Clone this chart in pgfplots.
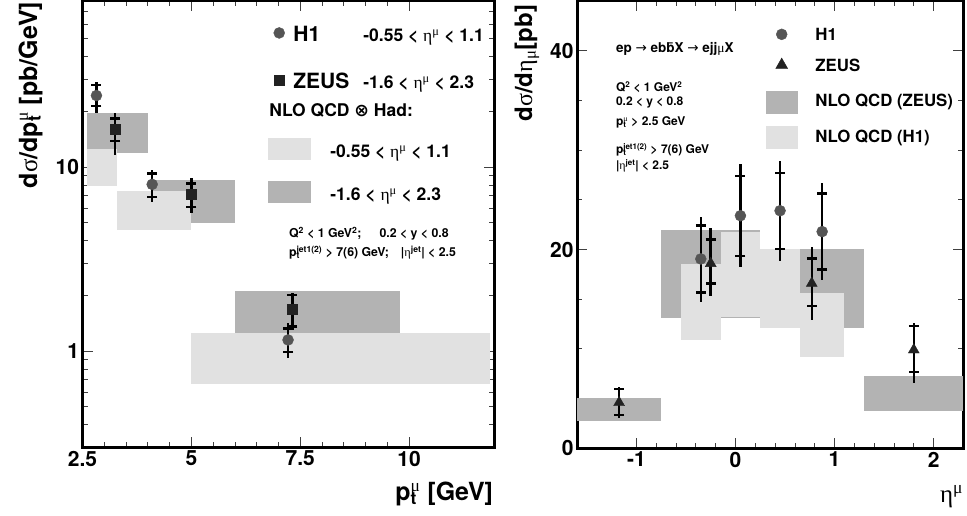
\documentclass[border=0pt]{standalone}
\usepackage{fontspec}
\setmainfont{TeX Gyre Heros}
\newfontfamily\gr{Liberation Serif}
\newfontfamily\djf{DejaVu Sans}
\usepackage{pgfplots}
\pgfplotsset{compat=1.18}
\definecolor{h1c}{HTML}{555555}
\definecolor{zc}{HTML}{222222}
\definecolor{dband}{HTML}{B3B3B3}
\definecolor{lband}{HTML}{E1E1E1}
\newcommand{\g}[1]{{\gr\mdseries #1}}
\newcommand{\sps}[1]{\textsuperscript{#1}}
\newcommand{\sbs}[1]{\textsubscript{#1}}
\newcommand{\SupSub}[2]{\setbox0\hbox{\sps{#1}}\setbox2\hbox{\sbs{#2}}\ifdim\wd0>\wd2 \rlap{\box2}\box0 \else\rlap{\box0}\box2 \fi}
\newcommand{\st}[2]{\rule[-#2pt]{0pt}{\dimexpr#1pt+#2pt\relax}}
\pgfplotsset{
  myaxis/.style={
    scale only axis, anchor=south west,
    axis line style={line width=3pt},
    tick align=inside,
    major tick length=10pt, minor tick length=5pt,
    tick style={black!75, line width=0.8pt},
    tick label style={font=\fontsize{21}{21}\selectfont\bfseries},
  },
  toterr/.style={forget plot, only marks, mark=none,
    error bars/y dir=both, error bars/y explicit, error bars/error mark=none,
    error bars/error bar style={line width=2.5pt, black}},
  staterr/.style={forget plot, only marks,
    error bars/y dir=both, error bars/y explicit, error bars/error mark=-,
    error bars/error mark options={rotate=90, black, line width=2.5pt, mark size=5pt},
    error bars/error bar style={line width=2.5pt, black}},
}
\begin{document}
\begin{tikzpicture}[x=1pt,y=1pt]
\path[use as bounding box] (0,0) rectangle (967,516);
% ================= LEFT PANEL =================
\begin{axis}[myaxis,
  at={(82.5pt,68.7pt)}, width=411.5pt, height=446.3pt,
  xmin=2.5, xmax=11.95, ymode=log, ymin=0.3, ymax=80,
  xtick={2.5,5,7.5,10}, xticklabels={2.5,5,7.5,10}, minor x tick num=4,
  ytick={1,10}, yticklabels={1,10},
  minor ytick={0.3,0.4,0.5,0.6,0.7,0.8,0.9,2,3,4,5,6,7,8,9,20,30,40,50,60,70,80},
  legend cell align=left,
  legend style={at={(0.4508,0.944)}, anchor=north west, draw=none, fill=none,
    inner sep=0pt, outer sep=0pt, row sep=0pt, column sep=20pt,
    nodes={inner sep=0pt, outer sep=0pt, text depth=},
    font=\fontsize{17.5}{17.5}\selectfont\bfseries},
]
% NLO bands: ZEUS range (dark)
\addplot[forget plot, fill=dband, draw=none] coordinates {(2.6,12.0)(4.0,12.0)(4.0,19.7)(2.6,19.7)} --cycle;
\addplot[forget plot, fill=dband, draw=none] coordinates {(4.1,4.99)(6.0,4.99)(6.0,8.5)(4.1,8.5)} --cycle;
\addplot[forget plot, fill=dband, draw=none] coordinates {(6.0,1.25)(9.8,1.25)(9.8,2.13)(6.0,2.13)} --cycle;
% NLO bands: H1 range (light)
\addplot[forget plot, fill=lband, draw=none] coordinates {(2.6,7.92)(3.3,7.92)(3.3,12.6)(2.6,12.6)} --cycle;
\addplot[forget plot, fill=lband, draw=none] coordinates {(3.3,4.55)(5.0,4.55)(5.0,7.41)(3.3,7.41)} --cycle;
\addplot[forget plot, fill=lband, draw=none] coordinates {(5.0,0.662)(11.85,0.662)(11.85,1.25)(5.0,1.25)} --cycle;
% H1 data
\addplot[toterr] table[x=x,y=y,y error plus=ep,y error minus=em]{
x y ep em
2.82 24.5 4.4 4.8
4.10 8.06 1.58 1.58
7.22 1.15 0.27 0.235
};
\addplot[staterr, mark=*, mark size=5.5pt, color=h1c] table[x=x,y=y,y error plus=ep,y error minus=em]{
x y ep em
2.82 24.5 3.4 3.0
4.10 8.06 1.19 1.16
7.22 1.15 0.18 0.16
};
% ZEUS data
\addplot[toterr] table[x=x,y=y,y error plus=ep,y error minus=em]{
x y ep em
3.25 16.0 3.6 4.4
5.00 7.11 1.58 1.50
7.32 1.69 0.39 0.38
};
\addplot[staterr, mark=square*, mark size=5pt, color=zc] table[x=x,y=y,y error plus=ep,y error minus=em]{
x y ep em
3.25 16.0 2.4 2.1
5.00 7.11 1.05 1.02
7.32 1.69 0.33 0.33
};
% legend
\addlegendimage{legend image code/.code={\fill[h1c] (11pt,12.7pt) circle (5.5pt);}}
\addlegendentry{\hspace*{-37pt}\makebox[70pt][l]{\fontsize{21}{21}\selectfont H1}-0.55 < \g{η}\sps{\g{μ}} < 1.1\st{14}{24}}
\addlegendimage{legend image code/.code={\fill[zc] (6pt,-4.65pt) rectangle (16pt,5.35pt);}}
\addlegendentry{\hspace*{-37pt}\makebox[70pt][l]{\fontsize{21}{21}\selectfont ZEUS}-1.6 < \g{η}\sps{\g{μ}} < 2.3\st{23.3}{8}}
\addlegendimage{empty legend}
\addlegendentry{\hspace*{-61pt}NLO QCD {\djf ⊗} Had:\st{19.7}{20}}
\addlegendimage{legend image code/.code={\fill[lband] (0pt,-1.75pt) rectangle (42pt,19.25pt);}}
\addlegendentry{-0.55 < \g{η}\sps{\g{μ}} < 1.1\st{21.5}{20}}
\addlegendimage{legend image code/.code={\fill[dband] (0pt,-11.25pt) rectangle (42pt,9.75pt);}}
\addlegendentry{-1.6 < \g{η}\sps{\g{μ}} < 2.3\st{22.5}{2}}
\end{axis}
% ================= RIGHT PANEL =================
\begin{axis}[myaxis,
  at={(577pt,67.7pt)}, width=386.3pt, height=447.3pt,
  xmin=-1.6, xmax=2.3, ymin=0, ymax=45,
  xtick={-1,0,1,2}, xticklabels={-1,0,1,2}, minor x tick num=4,
  ytick={0,20,40}, yticklabels={0,20,40}, minor ytick={5,10,15,25,30,35,45},
  legend cell align=left,
  legend style={at={(0.4893,0.944)}, anchor=north west, draw=none, fill=none,
    inner sep=0pt, outer sep=0pt, row sep=0pt, column sep=18pt,
    nodes={inner sep=0pt, outer sep=0pt, text depth=},
    font=\fontsize{16.8}{16.8}\selectfont\bfseries},
]
% ZEUS NLO (dark)
\addplot[forget plot, fill=dband, draw=none] coordinates {(-1.6,2.75)(-0.75,2.75)(-0.75,5.03)(-1.6,5.03)} --cycle;
\addplot[forget plot, fill=dband, draw=none] coordinates {(-0.75,13.1)(0.25,13.1)(0.25,21.96)(-0.75,21.96)} --cycle;
\addplot[forget plot, fill=dband, draw=none] coordinates {(0.25,12.07)(1.3,12.07)(1.3,20.05)(0.25,20.05)} --cycle;
\addplot[forget plot, fill=dband, draw=none] coordinates {(1.3,3.78)(2.3,3.78)(2.3,7.3)(1.3,7.3)} --cycle;
% H1 NLO (light)
\addplot[forget plot, fill=lband, draw=none] coordinates {(-0.55,10.9)(-0.15,10.9)(-0.15,18.54)(-0.55,18.54)} --cycle;
\addplot[forget plot, fill=lband, draw=none] coordinates {(-0.15,13.18)(0.25,13.18)(0.25,21.8)(-0.15,21.8)} --cycle;
\addplot[forget plot, fill=lband, draw=none] coordinates {(0.25,12.07)(0.65,12.07)(0.65,20.0)(0.25,20.0)} --cycle;
\addplot[forget plot, fill=lband, draw=none] coordinates {(0.65,9.2)(1.1,9.2)(1.1,15.6)(0.65,15.6)} --cycle;
% H1 data
\addplot[toterr] table[x=x,y=y,y error plus=ep,y error minus=em]{
x y ep em
-0.35 19.05 4.25 4.3
0.05 23.4 5.2 5.2
0.45 23.9 5.0 5.1
0.875 21.8 4.9 4.9
};
% ZEUS data
\addplot[toterr] table[x=x,y=y,y error plus=ep,y error minus=em]{
x y ep em
-1.175 4.6 1.54 1.6
-0.25 18.6 3.6 3.3
0.77 16.6 3.7 3.7
1.8 9.9 2.7 3.36
};
\addplot[staterr, mark=*, mark size=5.5pt, color=h1c] table[x=x,y=y,y error plus=ep,y error minus=em]{
x y ep em
-0.35 19.05 3.35 3.4
0.05 23.4 4.0 4.05
0.45 23.9 3.8 3.85
0.875 21.8 3.85 3.8
};
\addplot[staterr, mark=triangle*, mark size=6.3pt, color=zc] table[x=x,y=y,y error plus=ep,y error minus=em]{
x y ep em
-1.175 4.6 1.37 1.25
-0.25 18.6 2.4 2.0
0.77 16.6 2.5 2.3
1.8 9.9 2.4 2.22
};
% legend
\addlegendimage{legend image code/.code={\fill[h1c] (15.5pt,2.7pt) circle (5.5pt);}}
\addlegendentry{H1\st{14}{8}}
\addlegendimage{legend image code/.code={\fill[zc] (9.5pt,-3pt) -- (21.5pt,-3pt) -- (15.5pt,7.5pt) -- cycle;}}
\addlegendentry{ZEUS\st{23}{12}}
\addlegendimage{legend image code/.code={\fill[dband] (0pt,-11.95pt) rectangle (31pt,10.65pt);}}
\addlegendentry{NLO QCD (ZEUS)\st{23}{13.7}}
\addlegendimage{legend image code/.code={\fill[lband] (0pt,-13.1pt) rectangle (31pt,9.2pt);}}
\addlegendentry{NLO QCD (H1)\st{23}{8}}
\end{axis}
% ================= TEXTS =================
\begin{scope}[every node/.style={inner sep=0pt, outer sep=0pt}]
% axis titles
\node[rotate=90, anchor=base east, font=\fontsize{25}{25}\selectfont\bfseries] at (37,514)
  {d\g{σ}/dp\SupSub{\g{μ}}{t} [pb/GeV]};
\node[anchor=base east, font=\fontsize{25}{25}\selectfont\bfseries] at (493,15)
  {p\SupSub{\g{μ}}{t} [GeV]};
\node[rotate=90, anchor=base east, font=\fontsize{24}{24}\selectfont\bfseries] at (532,511)
  {d\g{σ}/d\g{η}\sbs{\g{μ}}[pb]};
\node[anchor=base east, font=\fontsize{25}{25}\selectfont\bfseries] at (963,13)
  {\g{η}\sps{\g{μ}}};
% left cut text
\node[anchor=base west, font=\fontsize{12.3}{12.3}\selectfont\bfseries] at (289,278.3)
  {Q\sps{2} < 1 GeV\sps{2};\hspace{18pt}0.2 < y < 0.8};
\node[anchor=base west, font=\fontsize{12.3}{12.3}\selectfont\bfseries] at (289,259)
  {p\SupSub{jet1(2)}{t} > 7(6) GeV;\hspace{12pt}|\g{η}\sps{jet}| < 2.5};
% right cut text
\node[anchor=base west, font=\fontsize{13.5}{13.5}\selectfont\bfseries] at (616,463)
  {ep {\djf\mdseries →} eb\={b}X {\djf\mdseries →} ejj\g{μ}X};
\node[anchor=base west, font=\fontsize{12}{12}\selectfont\bfseries] at (616,424.3)
  {Q\sps{2} < 1 GeV\sps{2}};
\node[anchor=base west, font=\fontsize{12}{12}\selectfont\bfseries] at (616,410)
  {0.2 < y < 0.8};
\node[anchor=base west, font=\fontsize{12}{12}\selectfont\bfseries] at (616,390)
  {p\SupSub{\g{μ}}{t} > 2.5 GeV};
\node[anchor=base west, font=\fontsize{12}{12}\selectfont\bfseries] at (616,362)
  {p\SupSub{jet1(2)}{t} > 7(6) GeV};
\node[anchor=base west, font=\fontsize{12}{12}\selectfont\bfseries] at (616,346)
  {|\g{η}\sps{jet}| < 2.5};
\end{scope}
\end{tikzpicture}
\end{document}
